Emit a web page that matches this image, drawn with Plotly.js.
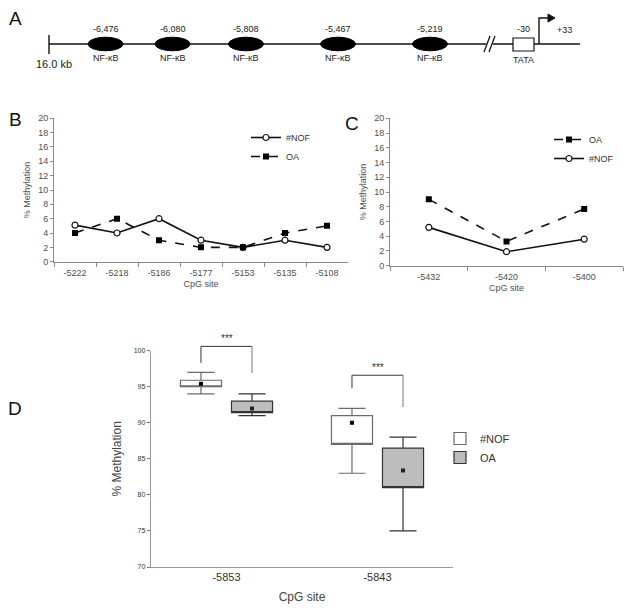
<!DOCTYPE html>
<html><head><meta charset="utf-8">
<script src="https://cdn.plot.ly/plotly-3.0.1.min.js"></script>
<style>html,body{margin:0;padding:0;background:#fff}#chart{width:629px;height:612px}</style>
</head><body><div id="chart"></div>
<script>
// ---------- Panel A (schematic) ----------
const siteLabels = ['-6,476', '-6,080', '-5,808', '-5,467', '-5,219'];
const siteName = 'NF-κB';
const startLabel = '16.0 kb';
const tataLabels = ['-30', 'TATA', '+33'];
// ---------- Panel B ----------
const bSites = ['-5222', '-5218', '-5186', '-5177', '-5153', '-5135', '-5108'];
const bNOF = [5.1, 4, 6, 3, 2, 3, 2];
const bOA = [4, 6, 3, 2, 2, 4, 5];
// ---------- Panel C ----------
const cSites = ['-5432', '-5420', '-5400'];
const cOA = [9, 3.3, 7.7];
const cNOF = [5.2, 1.9, 3.6];
// ---------- Panel D ----------
const dSites = ['-5853', '-5843'];
const dNOFLower = [94, 83], dNOFQ1 = [95, 87], dNOFQ3 = [95.9, 91], dNOFUpper = [97, 92], dNOFMean = [95.4, 90];
const dOALower = [91, 75], dOAQ1 = [91.4, 81], dOAQ3 = [93, 86.5], dOAUpper = [94, 88], dOAMean = [92, 83.4];
const sigLabels = ['***', '***'];
const sigTop = [100.6, 96.6], sigLeft = [98.3, 94.8], sigRight = [96.9, 92.2];
const seriesNames = ['#NOF', 'OA'];

const W = 629, H = 612;
const px = x => x / W, py = y => 1 - y / H;
const FONT = 'Liberation Sans, Arial, sans-serif';
const axisGray = '#8a8a8a', tickText = '#505050';

const shapes = [];
const ann = [];
const txt = (x, y, t, size, color) => ann.push({xref: 'paper', yref: 'paper', x: px(x), y: py(y), xanchor: 'center', yanchor: 'middle',
  text: t, showarrow: false, font: {family: FONT, size: size, color: color || '#222'}});

// schematic layout (pixel slots)
const lineY = 44, siteX = [105.5, 172.5, 246, 338, 430];
shapes.push({type: 'line', xref: 'paper', yref: 'paper', x0: px(49), x1: px(580), y0: py(lineY), y1: py(lineY), line: {color: '#111', width: 1.6}});
shapes.push({type: 'line', xref: 'paper', yref: 'paper', x0: px(49), x1: px(49), y0: py(35), y1: py(54), line: {color: '#111', width: 1.4}});
siteX.forEach((x, i) => {
  shapes.push({type: 'circle', xref: 'paper', yref: 'paper', x0: px(x - 17.5), x1: px(x + 17.5), y0: py(lineY + 6.8), y1: py(lineY - 6.8), fillcolor: '#000', line: {color: '#000', width: 1}});
  txt(x, 29, siteLabels[i], 9);
  txt(x, 58.5, siteName, 9);
});
txt(53.5, 64, startLabel, 11);
// break marks
shapes.push({type: 'rect', xref: 'paper', yref: 'paper', x0: px(486), x1: px(493), y0: py(lineY - 2), y1: py(lineY + 2), fillcolor: '#fff', line: {width: 0}});
shapes.push({type: 'line', xref: 'paper', yref: 'paper', x0: px(484), x1: px(490), y0: py(52), y1: py(36), line: {color: '#111', width: 1.3}});
shapes.push({type: 'line', xref: 'paper', yref: 'paper', x0: px(489), x1: px(495), y0: py(52), y1: py(36), line: {color: '#111', width: 1.3}});
// TATA box
shapes.push({type: 'rect', xref: 'paper', yref: 'paper', x0: px(513), x1: px(534), y0: py(51), y1: py(38), fillcolor: '#fff', line: {color: '#111', width: 1.2}});
// transcription start arrow
shapes.push({type: 'path', xref: 'paper', yref: 'paper', path: `M${px(539)},${py(lineY)} L${px(539)},${py(18)} L${px(549)},${py(18)}`, line: {color: '#111', width: 1.4}});
shapes.push({type: 'path', xref: 'paper', yref: 'paper', path: `M${px(548)},${py(14)} L${px(555)},${py(18)} L${px(548)},${py(22)} Z`, fillcolor: '#111', line: {color: '#111', width: 1}});
txt(523, 29, tataLabels[0], 9);
txt(523.5, 60, tataLabels[1], 9);
txt(564, 30, tataLabels[2], 9);

// panel letters
[['A', 15, 18], ['B', 15, 120], ['C', 352, 124], ['D', 15, 408]].forEach(([t, x, y]) => txt(x, y, t, 19, '#111'));

// ---------- Panel D helpers ----------
const dDom = [py(567), py(350.7)], dRange = [70, 100];
const dy = v => dDom[0] + (v - dRange[0]) / (dRange[1] - dRange[0]) * (dDom[1] - dDom[0]);
const off = 0.169, bw = 0.272;
const nofX = dSites.map((_, i) => i - off), oaX = dSites.map((_, i) => i + off);
dSites.forEach((_, i) => {
  const L = {color: '#333', width: 1};
  shapes.push({type: 'line', xref: 'x3', yref: 'paper', x0: nofX[i], x1: nofX[i], y0: dy(sigLeft[i]), y1: dy(sigTop[i]), line: L});
  shapes.push({type: 'line', xref: 'x3', yref: 'paper', x0: nofX[i], x1: oaX[i], y0: dy(sigTop[i]), y1: dy(sigTop[i]), line: L});
  shapes.push({type: 'line', xref: 'x3', yref: 'paper', x0: oaX[i], x1: oaX[i], y0: dy(sigTop[i]), y1: dy(sigRight[i]), line: {color: '#777', width: 1}});
  ann.push({xref: 'x3', yref: 'paper', x: i, y: dy(sigTop[i]), xanchor: 'center', yanchor: 'bottom', text: sigLabels[i], showarrow: false, font: {family: FONT, size: 10, color: '#333'}});
});

const lineCommon = {color: '#111', width: 1.6};
const traces = [
  {type: 'scatter', mode: 'lines+markers', name: seriesNames[0], x: bSites, y: bNOF, xaxis: 'x', yaxis: 'y', legend: 'legend',
   line: Object.assign({}, lineCommon), marker: {symbol: 'circle', size: 6, color: '#fff', line: {color: '#111', width: 1.2}}},
  {type: 'scatter', mode: 'lines+markers', name: seriesNames[1], x: bSites, y: bOA, xaxis: 'x', yaxis: 'y', legend: 'legend',
   line: Object.assign({dash: 'dash'}, lineCommon), marker: {symbol: 'square', size: 6, color: '#000'}},
  {type: 'scatter', mode: 'lines+markers', name: seriesNames[1], x: cSites, y: cOA, xaxis: 'x2', yaxis: 'y2', legend: 'legend2',
   line: Object.assign({dash: 'dash'}, lineCommon), marker: {symbol: 'square', size: 6, color: '#000'}},
  {type: 'scatter', mode: 'lines+markers', name: seriesNames[0], x: cSites, y: cNOF, xaxis: 'x2', yaxis: 'y2', legend: 'legend2',
   line: Object.assign({}, lineCommon), marker: {symbol: 'circle', size: 6, color: '#fff', line: {color: '#111', width: 1.2}}},
  {type: 'box', name: seriesNames[0], x: nofX, q1: dNOFQ1, median: dNOFQ1, q3: dNOFQ3, lowerfence: dNOFLower, upperfence: dNOFUpper,
   width: bw, whiskerwidth: 0.66, boxpoints: false, fillcolor: '#fff', line: {color: '#6a6a6a', width: 1.2}, xaxis: 'x3', yaxis: 'y3', legend: 'legend3', hoverinfo: 'skip'},
  {type: 'box', name: seriesNames[1], x: oaX, q1: dOAQ1, median: dOAQ1, q3: dOAQ3, lowerfence: dOALower, upperfence: dOAUpper,
   width: bw, whiskerwidth: 0.66, boxpoints: false, fillcolor: '#bdbdbd', line: {color: '#333', width: 1.2}, xaxis: 'x3', yaxis: 'y3', legend: 'legend3', hoverinfo: 'skip'},
  {type: 'scatter', mode: 'markers', x: nofX, y: dNOFMean, xaxis: 'x3', yaxis: 'y3', showlegend: false, marker: {symbol: 'square', size: 4, color: '#000'}},
  {type: 'scatter', mode: 'markers', x: oaX, y: dOAMean, xaxis: 'x3', yaxis: 'y3', showlegend: false, marker: {symbol: 'square', size: 4, color: '#222'}}
];

const lineAxisX = (dom, anchor, n) => ({domain: dom, anchor: anchor, type: 'category', range: [-0.5, n - 0.5], showline: true, linecolor: axisGray, linewidth: 1,
  ticks: 'outside', tickson: 'boundaries', ticklen: 4, tickcolor: axisGray, showgrid: false, zeroline: false, ticklabelstandoff: 2,
  tickfont: {family: FONT, size: 9, color: tickText}, title: {text: 'CpG site', font: {family: FONT, size: 9, color: tickText}, standoff: 4}});
const lineAxisY = (dom, anchor) => ({domain: dom, anchor: anchor, range: [0, 20], dtick: 2, showline: true, linecolor: axisGray, linewidth: 1,
  ticks: 'outside', ticklen: 3, tickcolor: axisGray, showgrid: false, zeroline: false,
  tickfont: {family: FONT, size: 9, color: tickText}, title: {text: '% Methylation', font: {family: FONT, size: 9, color: tickText}, standoff: 6}});

const legendBase = {bgcolor: 'rgba(0,0,0,0)', borderwidth: 0, font: {family: FONT, size: 9, color: '#333'}, xanchor: 'left', yanchor: 'top', itemwidth: 30, tracegroupgap: 0};

const layout = {
  width: W, height: H, margin: {l: 0, r: 0, t: 0, b: 0}, paper_bgcolor: '#fff', plot_bgcolor: 'rgba(0,0,0,0)',
  showlegend: true, hovermode: false,
  xaxis: lineAxisX([px(54), px(348)], 'y', bSites.length),
  yaxis: lineAxisY([py(261.7), py(118.3)], 'x'),
  xaxis2: lineAxisX([px(390), px(623)], 'y2', cSites.length),
  yaxis2: lineAxisY([py(265.7), py(118.3)], 'x2'),
  xaxis3: {domain: [px(151), px(453)], anchor: 'y3', range: [-0.5, 1.5], tickvals: dSites.map((_, i) => i), ticktext: dSites,
    showline: true, linecolor: '#9a9a9a', linewidth: 1.2, ticks: '', showgrid: false, zeroline: false,
    tickfont: {family: FONT, size: 11, color: '#333'}, title: {text: 'CpG site', font: {family: FONT, size: 12, color: '#444'}, standoff: 10}},
  yaxis3: {domain: dDom, anchor: 'x3', range: dRange, dtick: 5, showline: true, linecolor: '#9a9a9a', linewidth: 1.2,
    ticks: 'outside', ticklen: 3, tickcolor: '#777', showgrid: false, zeroline: false,
    tickfont: {family: FONT, size: 7, color: '#333'}, title: {text: '% Methylation', font: {family: FONT, size: 12, color: '#444'}, standoff: 9}},
  legend: Object.assign({}, legendBase, {x: px(246), y: py(123)}),
  legend2: Object.assign({}, legendBase, {x: px(549), y: py(125)}),
  legend3: Object.assign({}, legendBase, {x: px(440), y: py(424), font: {family: FONT, size: 11, color: '#333'}}),
  shapes: shapes,
  annotations: ann
};

Plotly.newPlot('chart', traces, layout, {staticPlot: true, displayModeBar: false});
</script>
</body></html>
